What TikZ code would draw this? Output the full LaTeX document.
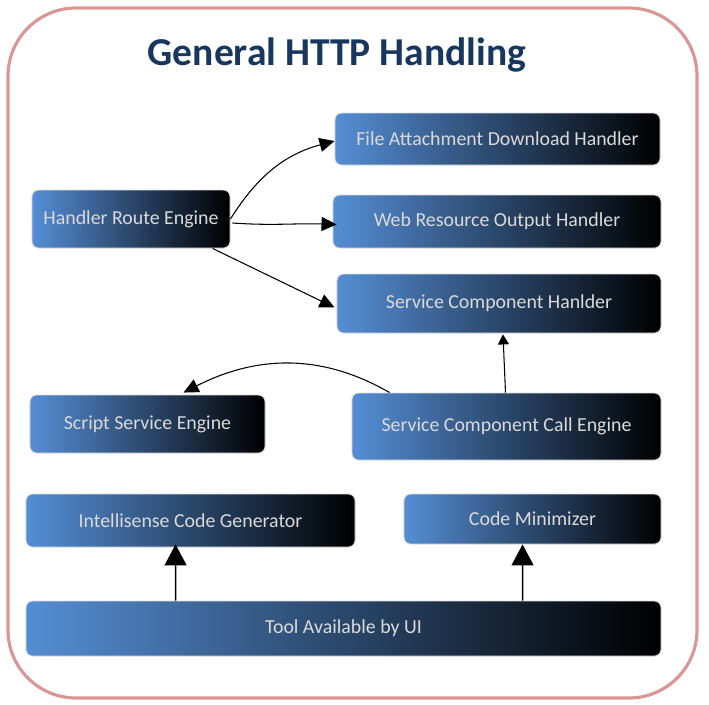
\documentclass[tikz,border=0pt]{standalone}
\usepackage{fontspec}
\setmainfont{Carlito}
\usetikzlibrary{arrows.meta,positioning,calc}
\definecolor{boxBlue}{RGB}{85,142,213}
\definecolor{boxEdge}{RGB}{220,220,220}
\definecolor{boxText}{RGB}{218,218,218}
\definecolor{titleNavy}{RGB}{23,55,94}
\definecolor{frameRose}{RGB}{217,150,148}
\tikzset{
  >={Triangle[length=3mm,width=2.8mm]},
  block/.style={rectangle,rounded corners=1.3mm,draw=boxEdge,line width=0.5pt,
    left color=boxBlue,right color=black,text=boxText,inner sep=0pt,
    font=\fontsize{11.3}{13}\selectfont},
  flow/.style={->,line width=0.6pt},
  smallFlow/.style={-{Triangle[length=2mm,width=2.2mm]},line width=0.6pt},
  bigFlow/.style={-{Triangle[length=4.2mm,width=4.4mm]},line width=0.8pt},
  frameLine/.style={draw=frameRose,line width=1.8pt,rounded corners=13.6mm},
  titleText/.style={font=\fontsize{22.5}{27}\selectfont\bfseries,text=titleNavy,anchor=base},
}

\begin{document}
\begin{tikzpicture}[x=0.2mm,y=-0.2mm]
\useasboundingbox (0,0) rectangle (709,705);

% ===== Frame and title =====
\draw[frameLine] (8,8) rectangle (697,698);
\node[titleText] (title) at (337,65) {General HTTP Handling};

% ===== Handlers (right column) =====
\node[block,minimum width=65mm,minimum height=10.4mm] (fadh) at (497.5,139) {File Attachment Download Handler};
\node[block,minimum width=65.6mm,minimum height=10.6mm] (wroh) at (497,221.5) {Web Resource Output Handler};
\node[block,minimum width=64.8mm,minimum height=11.8mm] (sch) at (499,303.5) {Service Component Hanlder};

% ===== Engines =====
\node[block,minimum width=39.6mm,minimum height=11.6mm] (hre) at (131,219) {Handler Route Engine};
\node[block,minimum width=47mm,minimum height=11.6mm] (sse) at (147.5,424) {Script Service Engine};
\node[block,minimum width=61.8mm,minimum height=13.4mm] (scce) at (506.5,426.5) {Service Component Call Engine};

% ===== Tools =====
\node[block,minimum width=65.8mm,minimum height=10.6mm] (icg) at (190.5,520.5) {Intellisense Code Generator};
\node[block,minimum width=51.4mm,minimum height=10mm] (cm) at (532.5,519) {Code Minimizer};
\node[block,minimum width=127mm,minimum height=11mm] (tool) at (343.5,628.5) {Tool Available by UI};

% ===== Connections =====
\draw[flow] (hre.east) to[out=58,in=195] ($(fadh.west)+(0,2)$);
\draw[flow] ($(hre.east)+(2,4)$) to[out=-4,in=178] ($(wroh.west)+(4,3)$);
\draw[flow] ($(hre.south)!0.82!(hre.south east)$) -- ($(sch.west)+(-2,4)$);
\draw[smallFlow] ($(scce.north)+(-1,0)$) -- ($(sch.south)+(4,1)$);
\draw[flow] ($(scce.north west)+(38,0)$) to[out=150,in=27] ($(sse.north)+(36,-2)$);
\draw[bigFlow] ($(tool.north west)+(150,0)$) -- ($(icg.south west)+(150,-3)$);
\draw[bigFlow] ($(tool.north west)+(497,0)$) -- ($(cm.south west)+(119,0)$);

\end{tikzpicture}
\end{document}
